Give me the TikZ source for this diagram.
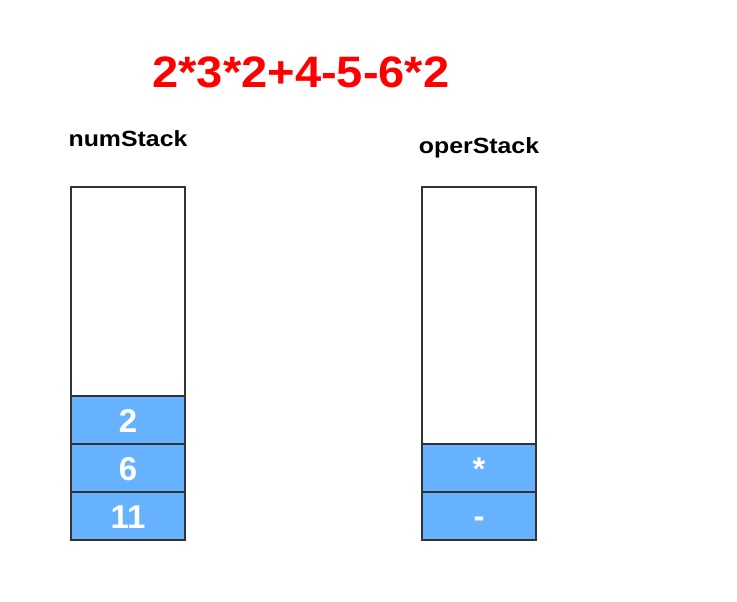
\documentclass[tikz,border=0pt]{standalone}
\usepackage{fontspec}
\usepackage{graphicx}
\setmainfont{Liberation Sans}
\definecolor{cellblue}{HTML}{66B2FF}
\definecolor{edge}{HTML}{333333}
\definecolor{titlered}{HTML}{FF0000}
\begin{document}
\begin{tikzpicture}[x=1pt,y=-1pt,
  stackbox/.style={draw=edge,line width=1.6pt,fill=white},
  cell/.style={draw=edge,line width=1.6pt,fill=cellblue},
  celltext/.style={text=white,anchor=base,inner sep=0pt,font=\bfseries\fontsize{33}{33}\selectfont},
  label/.style={font=\bfseries\fontsize{22}{22}\selectfont,text=black}]
\useasboundingbox[fill=white] (0,0) rectangle (737,602);
\node[font=\bfseries\fontsize{44}{44}\selectfont,text=titlered] (title) at (301,72) {\scalebox{1.07}[1]{2*3*2+4-5-6*2}};
\node[label] (numlabel) at (128,139) {\scalebox{1.13}[1]{numStack}};
\node[label] (operlabel) at (479,148) {\scalebox{1.13}[1]{operStack}};
% left stack
\draw[stackbox] (71,187) rectangle (185,540);
\draw[cell] (71,396) rectangle (185,444);
\draw[cell] (71,444) rectangle (185,492);
\draw[cell] (71,492) rectangle (185,540);
\node[celltext] (n1) at (128,432) {2};
\node[celltext] (n2) at (128,480) {6};
\node[celltext] (n3) at (128,528) {11};
% right stack
\draw[stackbox] (422,187) rectangle (536,540);
\draw[cell] (422,444) rectangle (536,492);
\draw[cell] (422,492) rectangle (536,540);
\node[celltext] (o1) at (479,480) {*};
\node[celltext] (o2) at (479,527) {-};
\end{tikzpicture}
\end{document}
